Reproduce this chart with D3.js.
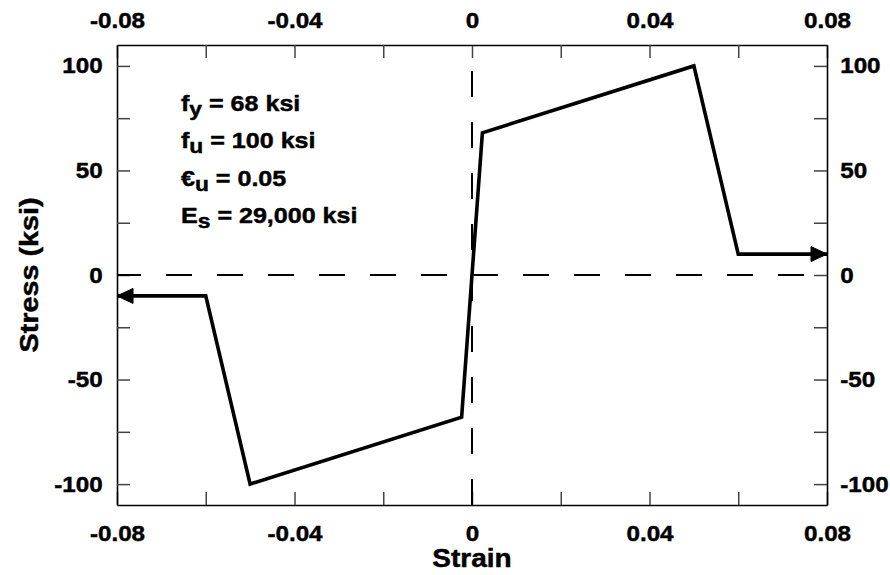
<!DOCTYPE html>
<html>
<head>
<meta charset="utf-8">
<script src="https://cdn.jsdelivr.net/npm/d3@7"></script>
<style>
  html, body { margin: 0; padding: 0; background: #fff; }
  svg { display: block; }
  text { font-family: "Liberation Sans", Arial, Helvetica, sans-serif; font-weight: bold; fill: #000; stroke: #000; stroke-width: 0.45px; }
</style>
</head>
<body>
<svg id="chart" width="890" height="575"></svg>
<script>
// Idealised bilinear steel stress-strain curve with a residual plateau
const strain = [-0.08, -0.06, -0.05, -0.00234, 0.00234, 0.05, 0.06, 0.08];
const stress = [-10, -10, -100, -68, 68, 100, 10, 10];

// Tick positions and which of them carry labels
const xTicks = [-0.08, -0.06, -0.04, -0.02, 0, 0.02, 0.04, 0.06, 0.08];
const xLabels = [-0.08, -0.04, 0, 0.04, 0.08];
const yTicks = [-100, -75, -50, -25, 0, 25, 50, 75, 100];
const yLabels = [-100, -50, 0, 50, 100];
const xDomain = [-0.08, 0.08];
const yDomain = [-110, 110];

// Material property notes
const noteMain = ["f", "f", "\u20AC", "E"];
const noteSub = ["y", "u", "u", "s"];
const noteRest = [" = 68 ksi", " = 100 ksi", " = 0.05", " = 29,000 ksi"];

const xTitle = "Strain";
const yTitle = "Stress (ksi)";

const W = 890, H = 575;
const margin = { top: 45, right: 63, bottom: 70, left: 117 };
const w = W - margin.left - margin.right;
const h = H - margin.top - margin.bottom;

const svg = d3.select("#chart");
const g = svg.append("g").attr("transform", `translate(${margin.left},${margin.top})`);

const x = d3.scaleLinear().domain(xDomain).range([0, w]);
const y = d3.scaleLinear().domain(yDomain).range([h, 0]);

const xLabelSet = new Set(xLabels.map(v => Math.round(v * 100)));
const yLabelSet = new Set(yLabels);
const fmtX = d => xLabelSet.has(Math.round(d * 100)) ? (d === 0 ? "0" : d.toFixed(2)) : "";
const fmtY = d => yLabelSet.has(d) ? String(d) : "";

const TICK = 13;
const labelSize = 22;

function styleAxis(sel) {
  sel.select(".domain").attr("stroke", "#000").attr("stroke-width", 1.6);
  sel.selectAll(".tick line").attr("stroke", "#444").attr("stroke-width", 1.5);
  sel.selectAll(".tick text")
    .attr("font-size", labelSize)
    .attr("fill", "#000")
    .attr("font-family", "'Liberation Sans', Arial, sans-serif")
    .attr("font-weight", "bold")
    .attr("transform", "scale(1.1,1)");
}

// Four-sided frame with inward ticks
g.append("g").attr("transform", `translate(0,${h})`)
  .call(d3.axisBottom(x).tickValues(xTicks).tickFormat(fmtX).tickSizeInner(-TICK).tickSizeOuter(0).tickPadding(20))
  .call(styleAxis);
g.append("g")
  .call(d3.axisTop(x).tickValues(xTicks).tickFormat(fmtX).tickSizeInner(-TICK).tickSizeOuter(0).tickPadding(17))
  .call(styleAxis);
g.append("g")
  .call(d3.axisLeft(y).tickValues(yTicks).tickFormat(fmtY).tickSizeInner(-TICK).tickSizeOuter(0).tickPadding(13))
  .call(styleAxis);
g.append("g").attr("transform", `translate(${w},0)`)
  .call(d3.axisRight(y).tickValues(yTicks).tickFormat(fmtY).tickSizeInner(-TICK).tickSizeOuter(0).tickPadding(12))
  .call(styleAxis);

// Dashed zero lines, phased so a dash begins at the origin
const dashA = 26, dashB = 25, period = dashA + dashB;
const x0 = x(0), y0 = y(0);
g.append("line")
  .attr("x1", 0).attr("x2", w).attr("y1", y0).attr("y2", y0)
  .attr("stroke", "#000").attr("stroke-width", 2)
  .attr("stroke-dasharray", `${dashA},${dashB}`)
  .attr("stroke-dashoffset", period - (x0 % period));
g.append("line")
  .attr("x1", x0).attr("x2", x0).attr("y1", 0).attr("y2", h)
  .attr("stroke", "#000").attr("stroke-width", 2)
  .attr("stroke-dasharray", `${dashA},${dashB}`)
  .attr("stroke-dashoffset", period - (y0 % period));

// Stress-strain curve
const pts = strain.map((s, i) => [s, stress[i]]);
const line = d3.line().x(d => x(d[0])).y(d => y(d[1]));
g.append("path")
  .attr("d", line(pts))
  .attr("fill", "none")
  .attr("stroke", "#000")
  .attr("stroke-width", 3.6)
  .attr("stroke-linejoin", "miter");

// Arrowheads on both open ends
function arrowHead(tip, from) {
  const tx = x(tip[0]), ty = y(tip[1]);
  const fx = x(from[0]), fy = y(from[1]);
  const ang = Math.atan2(ty - fy, tx - fx);
  const L = 16, Hw = 7.5;
  const bx = tx - L * Math.cos(ang), by = ty - L * Math.sin(ang);
  const px = -Math.sin(ang) * Hw, py = Math.cos(ang) * Hw;
  g.append("path")
    .attr("d", `M${tx},${ty}L${bx + px},${by + py}L${bx - px},${by - py}Z`)
    .attr("fill", "#000").attr("stroke", "#000").attr("stroke-width", 1).attr("stroke-linejoin", "round");
}
arrowHead(pts[0], pts[1]);
arrowHead(pts[pts.length - 1], pts[pts.length - 2]);

// Property notes
const notes = svg.append("g").attr("transform", "translate(181,0) scale(1.14,1)");
const noteBase = 111, noteStep = 37.4;
noteMain.forEach((m, i) => {
  const t = notes.append("text")
    .attr("x", 0).attr("y", noteBase + i * noteStep)
    .attr("font-size", 22);
  t.append("tspan").text(m);
  t.append("tspan").attr("dy", 5).attr("font-size", 20).text(noteSub[i]);
  t.append("tspan").attr("dy", -5).text(noteRest[i]);
});

// Axis titles
svg.append("text")
  .attr("transform", `translate(${margin.left + x0},567) scale(1.12,1)`)
  .attr("text-anchor", "middle")
  .attr("font-size", 25)
  .text(xTitle);
svg.append("text")
  .attr("transform", `translate(38,${margin.top + h / 2}) rotate(-90) scale(1.15,1)`)
  .attr("text-anchor", "middle")
  .attr("font-size", 25)
  .text(yTitle);
</script>
</body>
</html>
